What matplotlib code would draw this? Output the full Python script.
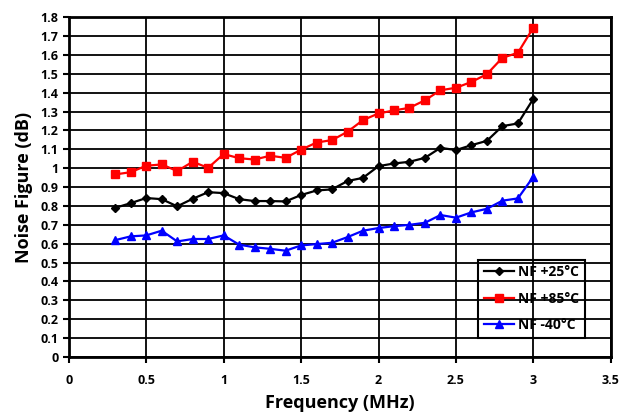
import numpy as np
import matplotlib
matplotlib.use("Agg")
import matplotlib.pyplot as plt

# frequency points (MHz)
freq = [0.3, 0.4, 0.5, 0.6, 0.7, 0.8, 0.9, 1.0, 1.1, 1.2, 1.3, 1.4, 1.5, 1.6,
        1.7, 1.8, 1.9, 2.0, 2.1, 2.2, 2.3, 2.4, 2.5, 2.6, 2.7, 2.8, 2.9, 3.0]

# noise figure (dB) at each temperature
nf_25 = [0.79, 0.815, 0.842, 0.836, 0.798, 0.838, 0.873, 0.868, 0.836, 0.826,
         0.826, 0.824, 0.858, 0.882, 0.888, 0.932, 0.949, 1.011, 1.025, 1.034,
         1.055, 1.108, 1.096, 1.122, 1.145, 1.223, 1.237, 1.368]
nf_85 = [0.967, 0.979, 1.013, 1.02, 0.985, 1.034, 1.002, 1.075, 1.053, 1.046,
         1.066, 1.055, 1.098, 1.136, 1.149, 1.193, 1.255, 1.29, 1.306, 1.32,
         1.36, 1.413, 1.426, 1.457, 1.498, 1.585, 1.611, 1.745]
nf_m40 = [0.619, 0.639, 0.644, 0.669, 0.612, 0.625, 0.625, 0.644, 0.595, 0.581,
          0.573, 0.563, 0.591, 0.598, 0.605, 0.635, 0.669, 0.683, 0.693, 0.70,
          0.711, 0.752, 0.738, 0.766, 0.785, 0.828, 0.84, 0.955]

plt.rcParams['font.family'] = ['Open Sans', 'DejaVu Sans']
plt.rcParams['font.weight'] = 'bold'

fig = plt.figure(figsize=(6.31, 4.19), dpi=100)
ax = fig.add_axes([0.109, 0.148, 0.859, 0.811])

ax.plot(freq, nf_25, color='black', marker='D', markersize=4.5, lw=1.6,
        label='NF +25°C')
ax.plot(freq, nf_85, color='red', marker='s', markersize=6, lw=1.6,
        label='NF +85°C')
ax.plot(freq, nf_m40, color='blue', marker='^', markersize=6, lw=1.6,
        label='NF -40°C')

ax.set_xlim(0, 3.5)
ax.set_ylim(0, 1.8)
ax.set_xticks(np.arange(0, 3.51, 0.5))
ax.set_xticklabels(['0', '0.5', '1', '1.5', '2', '2.5', '3', '3.5'])
ax.set_yticks(np.arange(0, 1.81, 0.1))
ax.set_yticklabels(['0'] + ['%g' % round(v, 1) for v in np.arange(0.1, 1.81, 0.1)])
ax.grid(True, color='black', lw=1.3)
ax.set_axisbelow(True)
for s in ax.spines.values():
    s.set_linewidth(2)
ax.tick_params(axis='both', labelsize=9, width=1.5, length=4, direction='out')
ax.tick_params(axis='x', pad=8)

ax.set_xlabel('Frequency (MHz)', fontsize=13, fontweight='bold', labelpad=5)
ax.set_ylabel('Noise Figure (dB)', fontsize=13, fontweight='bold', labelpad=5)

leg = ax.legend(loc='lower right', bbox_to_anchor=(0.952, 0.057),
                borderaxespad=0, fancybox=False, framealpha=1,
                facecolor='none', edgecolor='black', fontsize=10,
                handlelength=2.2, handletextpad=0.3, labelspacing=0.9)
leg.get_frame().set_linewidth(1.5)

fig.savefig('out.png', dpi=100)
